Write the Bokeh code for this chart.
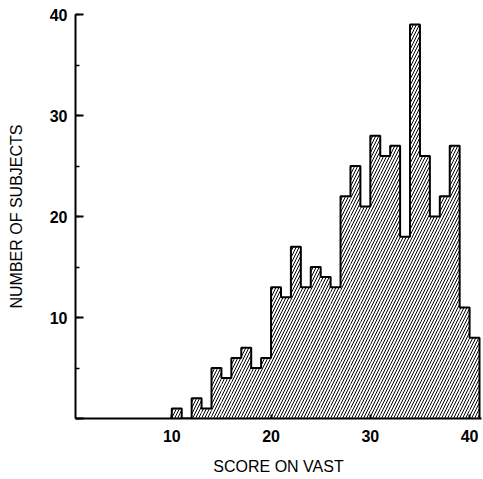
import numpy as np
from bokeh.plotting import figure
from bokeh.models import SingleIntervalTicker, FixedTicker
from bokeh.embed import file_html
from bokeh.resources import INLINE

# Histogram data: left edge of each 1-point score bin and its count
bin_left = list(range(10, 41))
counts = [1, 0, 2, 1, 5, 4, 6, 7, 5, 6,
          13, 12, 17, 13, 15, 14, 13, 22, 25, 21,
          28, 26, 27, 18, 39, 26, 20, 22, 27, 11, 8]
bin_width = 1
x_ticks = [10, 20, 30, 40]

left = np.array(bin_left, dtype=float)
right = left + bin_width
top = np.array(counts, dtype=float)

p = figure(width=483, height=479, output_backend="svg", toolbar_location=None,
           x_range=(0.3, 41.2), y_range=(0, 40),
           min_border_left=75, min_border_right=2, min_border_top=14, min_border_bottom=61)

p.quad(left=left, right=right, bottom=0, top=top,
       fill_color="white", line_color=None,
       hatch_pattern="/", hatch_color="black", hatch_scale=6, hatch_weight=1.0)

# step outline of the histogram
ox = [left[0]]
oy = [0.0]
for l, r, c in zip(left, right, top):
    ox += [l, r]
    oy += [c, c]
ox.append(right[-1])
oy.append(0.0)
p.line(ox, oy, line_color="black", line_width=2)

p.xgrid.visible = False
p.ygrid.visible = False
p.outline_line_color = None
p.background_fill_color = "white"

font = "Liberation Sans"
p.xaxis.ticker = FixedTicker(ticks=x_ticks)
p.yaxis.ticker = SingleIntervalTicker(interval=10, num_minor_ticks=2)
for ax in (p.xaxis[0], p.yaxis[0]):
    ax.axis_line_width = 2
    ax.axis_line_color = "black"
    ax.major_tick_line_color = "black"
    ax.major_tick_line_width = 2
    ax.major_tick_out = 0
    ax.minor_tick_out = 0
    ax.major_label_text_font = font
    ax.major_label_text_font_style = "bold"
    ax.major_label_text_font_size = "16px"
    ax.major_label_text_color = "black"
    ax.axis_label_text_font = font
    ax.axis_label_text_font_style = "normal"
    ax.axis_label_text_font_size = "16px"
    ax.axis_label_text_color = "black"

p.xaxis.major_tick_in = 4
p.xaxis.minor_tick_line_color = None
p.xaxis.major_label_standoff = 11
p.xaxis.axis_label = "SCORE ON VAST"
p.xaxis.axis_label_standoff = 13

p.yaxis.major_tick_in = 8
p.yaxis.minor_tick_in = 4
p.yaxis.minor_tick_line_color = "black"
p.yaxis.minor_tick_line_width = 1.5
p.yaxis.major_label_standoff = 8
p.yaxis.axis_label = "NUMBER OF SUBJECTS"
p.yaxis.axis_label_standoff = 22
p.yaxis.major_label_overrides = {0: ""}

open("out.html", "w").write(file_html(p, INLINE))
